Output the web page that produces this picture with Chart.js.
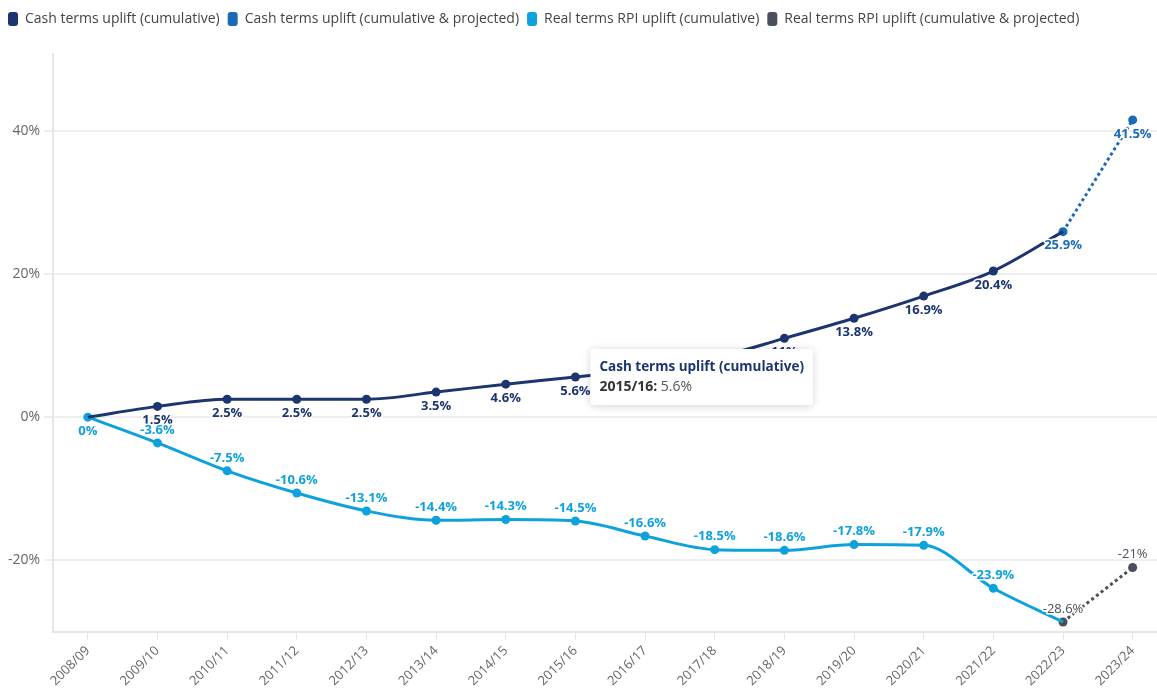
<!DOCTYPE html>
<html>
<head>
<meta charset="utf-8">
<script src="https://cdn.jsdelivr.net/npm/chart.js@4.4.1/dist/chart.umd.min.js"></script>
<style>
  html, body { margin: 0; padding: 0; background: #fff; overflow: hidden; }
  #wrap { width: 1172px; height: 695px; }
</style>
</head>
<body>
<div id="wrap"><canvas id="uplift"></canvas></div>
<script>
const categories = ['2008/09', '2009/10', '2010/11', '2011/12', '2012/13', '2013/14', '2014/15', '2015/16',
  '2016/17', '2017/18', '2018/19', '2019/20', '2020/21', '2021/22', '2022/23', '2023/24'];

const cashCumulative = [0, 1.5, 2.5, 2.5, 2.5, 3.5, 4.6, 5.6, 6.7, 8.3, 11.0, 13.8, 16.9, 20.4, 25.9, null];
const cashProjected = [null, null, null, null, null, null, null, null, null, null, null, null, null, null, 25.9, 41.5];
const realCumulative = [0, -3.6, -7.5, -10.6, -13.1, -14.4, -14.3, -14.5, -16.6, -18.5, -18.6, -17.8, -17.9, -23.9, -28.6, null];
const realProjected = [null, null, null, null, null, null, null, null, null, null, null, null, null, null, -28.6, -21];

const yTicks = [-20, 0, 20, 40];

const NAVY = '#1c3570';
const BLUE = '#1a6ab4';
const CYAN = '#0ea2dc';
const GREY = '#4a4f59';
const FONT = "'Open Sans', 'Noto Sans', sans-serif";

// which labels to skip (hidden under other marks)
const hideLabel = { 0: [0, 14], 2: [14] };

// point labels: cash series below the point, real series above
const pointLabels = {
  id: 'pointLabels',
  afterDatasetsDraw(chart) {
    const ctx = chart.ctx;
    const styles = [
      { color: NAVY, below: true, weight: 'bold' },
      { color: BLUE, below: true, weight: 'bold' },
      { color: CYAN, below: false, weight: 'bold' },
      { color: GREY, below: false, weight: 'normal' }
    ];
    ctx.save();
    ctx.textAlign = 'center';
    ctx.textBaseline = 'middle';
    ctx.lineJoin = 'round';
    chart.data.datasets.forEach((ds, di) => {
      const st = styles[di];
      const meta = chart.getDatasetMeta(di);
      ctx.font = st.weight + ' 13px ' + FONT;
      meta.data.forEach((pt, i) => {
        const v = ds.data[i];
        if (v === null || v === undefined) return;
        if ((hideLabel[di] || []).includes(i)) return;
        let below = st.below;
        if (di === 2 && i === 0) below = true;
        const y = below ? pt.y + 14 : pt.y - 13;
        const txt = v + '%';
        ctx.strokeStyle = '#fff';
        ctx.lineWidth = 3;
        ctx.strokeText(txt, pt.x, y);
        ctx.fillStyle = st.color;
        ctx.fillText(txt, pt.x, y);
      });
    });
    ctx.restore();
  }
};

// static tooltip as it appears in the picture (2015/16 on the cash series)
const fixedTip = {
  id: 'fixedTip',
  afterDraw(chart) {
    const idx = 7;
    const pt = chart.getDatasetMeta(0).data[idx];
    const ctx = chart.ctx;
    const title = chart.data.datasets[0].label;
    const key = categories[idx] + ':';
    const val = ' ' + cashCumulative[idx] + '%';
    ctx.save();
    ctx.font = 'bold 14px ' + FONT;
    const kw = ctx.measureText(key).width;
    ctx.font = 'bold 13.5px ' + FONT;
    const tw = ctx.measureText(title).width;
    const w = tw + 18;
    const h = 56;
    const x = pt.x + 15;
    const y = pt.y - 28;
    ctx.shadowColor = 'rgba(0,0,0,0.18)';
    ctx.shadowBlur = 8;
    ctx.shadowOffsetY = 1;
    ctx.fillStyle = '#fff';
    ctx.beginPath();
    ctx.roundRect(x, y, w, h, 3);
    ctx.fill();
    ctx.shadowColor = 'transparent';
    ctx.textBaseline = 'middle';
    ctx.textAlign = 'left';
    ctx.fillStyle = NAVY;
    ctx.fillText(title, x + 9, y + 18);
    ctx.font = 'bold 14px ' + FONT;
    ctx.fillStyle = '#333';
    ctx.fillText(key, x + 9, y + 38);
    ctx.font = '14px ' + FONT;
    ctx.fillStyle = '#555';
    ctx.fillText(val, x + 9 + kw, y + 38);
    ctx.restore();
  }
};

// extra room between legend and plot
const legendGap = {
  id: 'legendGap',
  beforeInit(chart) {
    const fit = chart.legend.fit;
    chart.legend.fit = function () {
      fit.bind(this)();
      this.height += 18;
    };
  }
};

function lineSet(label, data, color, dashed, radii) {
  return {
    label,
    data,
    borderColor: color,
    backgroundColor: color,
    pointBackgroundColor: color,
    pointBorderColor: color,
    pointBorderWidth: 0,
    borderWidth: 3,
    borderDash: dashed ? [3, 3] : [],
    pointRadius: radii,
    pointHoverRadius: radii,
    cubicInterpolationMode: 'monotone',
    spanGaps: false
  };
}

const cashRadii = categories.map((c, i) => (i === 0 || i === 14 ? 0 : 4.5));
const realRadii = categories.map((c, i) => (i === 14 ? 0 : 4.5));

new Chart(document.getElementById('uplift'), {
  type: 'line',
  data: {
    labels: categories,
    datasets: [
      lineSet('Cash terms uplift (cumulative)', cashCumulative, NAVY, false, cashRadii),
      lineSet('Cash terms uplift (cumulative & projected)', cashProjected, BLUE, true, 4.5),
      lineSet('Real terms RPI uplift (cumulative)', realCumulative, CYAN, false, realRadii),
      lineSet('Real terms RPI uplift (cumulative & projected)', realProjected, GREY, true, 4.5)
    ]
  },
  options: {
    responsive: true,
    maintainAspectRatio: false,
    animation: false,
    events: [],
    layout: { padding: { left: 0, right: 0, top: 4, bottom: 0 } },
    plugins: {
      legend: {
        align: 'start',
        labels: {
          color: '#444',
          font: { family: FONT, size: 14 },
          boxWidth: 10,
          boxHeight: 14,
          useBorderRadius: true,
          borderRadius: 3,
          padding: 8,
          generateLabels(chart) {
            return Chart.defaults.plugins.legend.labels.generateLabels(chart).map(item => {
              item.lineDash = [];
              item.lineWidth = 0;
              return item;
            });
          }
        }
      },
      tooltip: { enabled: false }
    },
    scales: {
      x: {
        offset: true,
        grid: { drawOnChartArea: false, color: '#e6e6e6', tickLength: 8 },
        border: { color: '#e6e6e6', width: 2 },
        ticks: {
          color: '#666',
          font: { family: FONT, size: 13 },
          maxRotation: 45,
          minRotation: 45,
          autoSkip: false
        },
        afterFit(scale) { scale.height = 63; }
      },
      y: {
        min: -30,
        max: 50.7,
        afterBuildTicks(scale) { scale.ticks = yTicks.map(v => ({ value: v })); },
        afterFit(scale) { scale.width = 53; },
        grid: { color: '#eeeeee', lineWidth: 2, tickLength: 9 },
        border: { color: '#e6e6e6', width: 2 },
        ticks: {
          color: '#666',
          font: { family: FONT, size: 14 },
          padding: 4,
          callback: v => v + '%'
        }
      }
    }
  },
  plugins: [pointLabels, fixedTip, legendGap]
});
</script>
</body>
</html>
